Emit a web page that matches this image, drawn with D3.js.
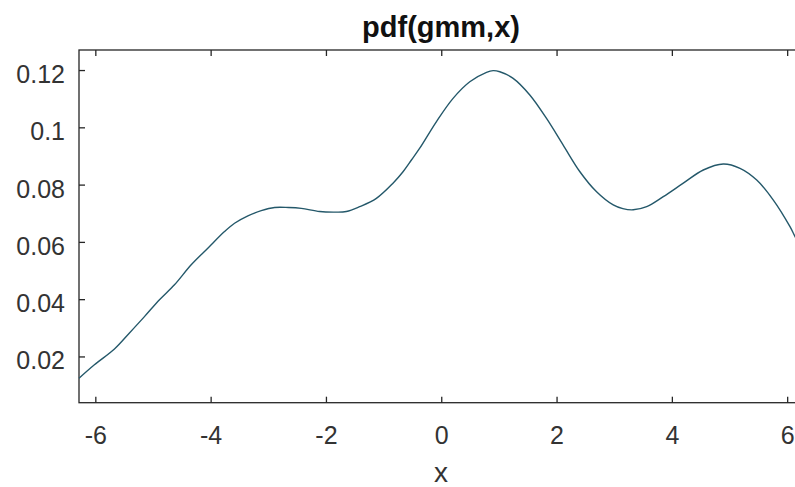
<!DOCTYPE html>
<html>
<head>
<meta charset="utf-8">
<script src="https://cdn.jsdelivr.net/npm/d3@7"></script>
<style>
  html, body { margin: 0; padding: 0; background: #fff; overflow: hidden; }
  svg { display: block; }
  text { font-family: "Liberation Sans", Arial, Helvetica, sans-serif; }
</style>
</head>
<body>
<svg id="chart" width="795" height="487"></svg>
<script>
// ---- data ----
const titleText = "pdf(gmm,x)";
const xLabelText = "x";
const xTicks = [-6, -4, -2, 0, 2, 4, 6];
const yTicks = [0.02, 0.04, 0.06, 0.08, 0.1, 0.12];
const xDomain = [-2 * Math.PI, 2 * Math.PI];
const yDomain = [0.00385, 0.127];

const xs = [-6.283, -6.016, -5.668, -5.408, -5.148, -4.887, -4.627, -4.337, -4.049,
            -3.759, -3.585, -3.354, -3.122, -2.891, -2.65, -2.427, -2.109, -1.85, -1.646,
            -1.415, -1.125, -0.837, -0.663, -0.517, -0.373, -0.083, 0.205, 0.495, 0.785,
            0.9, 1.016, 1.247, 1.536, 1.826, 2.115, 2.405, 2.694, 2.983, 3.15,
            3.33, 3.563, 3.851, 4.198, 4.545, 4.892, 5.182, 5.472, 5.76, 6.049, 6.137, 6.283];
const ys = [0.0124, 0.0171, 0.0226, 0.0282, 0.0339, 0.0398, 0.0450, 0.0520, 0.0578,
            0.0636, 0.0665, 0.0691, 0.0709, 0.0720, 0.0720, 0.0717, 0.0706, 0.0704, 0.0706,
            0.0723, 0.0752, 0.0805, 0.0845, 0.0886, 0.0927, 0.1020, 0.1101, 0.1159, 0.1192,
            0.1198, 0.1194, 0.1171, 0.1113, 0.1031, 0.0938, 0.0845, 0.0775, 0.0729, 0.0716,
            0.0712, 0.0723, 0.0758, 0.0805, 0.0851, 0.0872, 0.0857, 0.0816, 0.0746, 0.0653, 0.0618, 0.0565];

// ---- layout ----
const svg = d3.select("#chart");
const mLeft = 79, mRight = 803.5, mTop = 50, mBottom = 402.7;
const axisColor = "#262626";
const textColor = "#333333";

const x = d3.scaleLinear().domain(xDomain).range([mLeft, mRight]);
const y = d3.scaleLinear().domain(yDomain).range([mBottom, mTop]);

// box
svg.append("rect")
  .attr("x", mLeft).attr("y", mTop)
  .attr("width", mRight - mLeft).attr("height", mBottom - mTop)
  .attr("fill", "none").attr("stroke", axisColor).attr("stroke-width", 1.3);

// bottom axis (ticks inward)
const gx = svg.append("g").attr("transform", `translate(0,${mBottom})`)
  .call(d3.axisBottom(x).tickValues(xTicks).tickSizeInner(-6).tickSizeOuter(0).tickPadding(14)
        .tickFormat(d => String(d)));
gx.select(".domain").remove();
gx.selectAll(".tick line").attr("stroke", axisColor).attr("stroke-width", 1.3);
gx.selectAll(".tick text").attr("fill", textColor).attr("font-size", 25)
  .attr("dy", "0.71em").attr("y", 24);

// top ticks
const gxt = svg.append("g").attr("transform", `translate(0,${mTop})`)
  .call(d3.axisTop(x).tickValues(xTicks).tickSizeInner(-6).tickSizeOuter(0).tickFormat(""));
gxt.select(".domain").remove();
gxt.selectAll(".tick line").attr("stroke", axisColor).attr("stroke-width", 1.3);

// left axis
const gy = svg.append("g").attr("transform", `translate(${mLeft},0)`)
  .call(d3.axisLeft(y).tickValues(yTicks).tickSizeInner(-6).tickSizeOuter(0).tickPadding(14)
        .tickFormat(d => String(+d.toFixed(2))));
gy.select(".domain").remove();
gy.selectAll(".tick line").attr("stroke", axisColor).attr("stroke-width", 1.3);
gy.selectAll(".tick text").attr("fill", textColor).attr("font-size", 25)
  .attr("dy", "0.5em");

// curve
const pts = xs.map((v, i) => [v, ys[i]]);
const line = d3.line().x(d => x(d[0])).y(d => y(d[1])).curve(d3.curveCatmullRom.alpha(0.5));
svg.append("path").datum(pts)
  .attr("d", line)
  .attr("fill", "none")
  .attr("stroke", "#24586a")
  .attr("stroke-width", 1.4);

// title
svg.append("text")
  .attr("x", 441).attr("y", 37)
  .attr("text-anchor", "middle")
  .attr("font-size", 29).attr("font-weight", "bold")
  .attr("fill", "#111")
  .text(titleText);

// x label
svg.append("text")
  .attr("x", 441).attr("y", 482)
  .attr("text-anchor", "middle")
  .attr("font-size", 28)
  .attr("fill", textColor)
  .text(xLabelText);
</script>
</body>
</html>
